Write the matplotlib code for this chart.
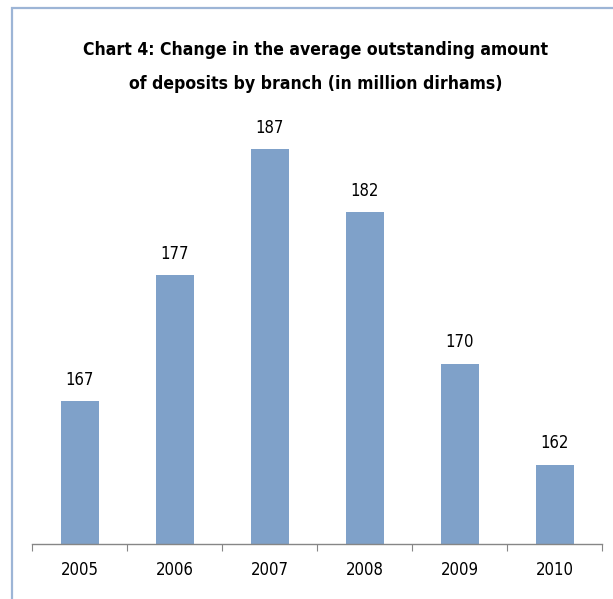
import matplotlib.pyplot as plt
from matplotlib.patches import Rectangle

years = ["2005", "2006", "2007", "2008", "2009", "2010"]
deposits = [167, 177, 187, 182, 170, 162]

plt.rcParams["font.family"] = ["DejaVu Sans"]
plt.rcParams["font.stretch"] = "condensed"

W, H = 613, 599
fig = plt.figure(figsize=(W / 100, H / 100), dpi=100)

# frame around the chart (runs off the right and bottom edges)
fig.patches.append(Rectangle((12 / W, -0.1), 1.2, (H - 8) / H + 0.1,
                             transform=fig.transFigure, fill=False,
                             edgecolor="#9db5d6", linewidth=1.6))

ax = fig.add_axes([32 / W, (H - 544) / H, 570 / W, 424 / H])
x = range(len(years))
ax.bar(x, deposits, width=0.4, color="#7fa1c9", zorder=2)

ax.set_xlim(-0.5, len(years) - 0.5)
ax.set_ylim(155.7, 189.3)

for xi, v in zip(x, deposits):
    ax.annotate(str(v), (xi, v), xytext=(0, 9), textcoords="offset points",
                ha="center", va="bottom", fontsize=12, stretch="condensed")

for side in ["top", "right", "left"]:
    ax.spines[side].set_visible(False)
ax.spines["bottom"].set_color("#868686")
ax.spines["bottom"].set_linewidth(1)
ax.set_yticks([])

ax.set_xticks([i - 0.5 for i in range(len(years) + 1)])
ax.set_xticklabels([])
ax.set_xticks(list(x), minor=True)
ax.set_xticklabels(years, minor=True, fontsize=12, stretch="condensed")
ax.tick_params(axis="x", which="major", length=5, color="#868686", direction="out")
ax.tick_params(axis="x", which="minor", length=0, pad=12)

fig.text(316 / W, 1 - 50 / H, "Chart 4: Change in the average outstanding amount",
         ha="center", va="center", fontsize=12.6, fontweight="bold", stretch="condensed")
fig.text(316 / W, 1 - 84 / H, "of deposits by branch (in million dirhams)",
         ha="center", va="center", fontsize=12.6, fontweight="bold", stretch="condensed")

fig.savefig("out.png", dpi=100)
